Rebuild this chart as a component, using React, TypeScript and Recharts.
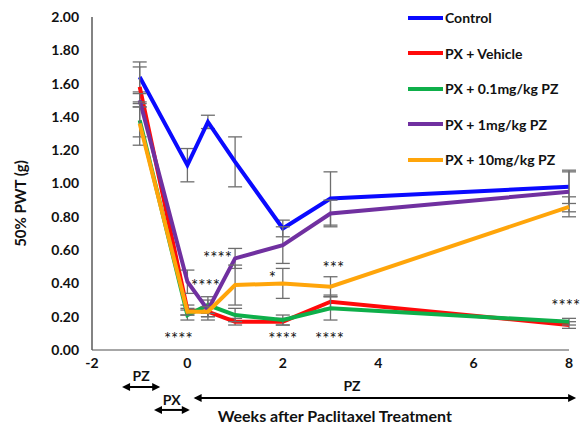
import {
  LineChart,
  Line,
  XAxis,
  YAxis,
  ErrorBar,
  Legend,
  ReferenceLine,
  ReferenceDot,
} from 'recharts';

// Weeks relative to paclitaxel dosing
const weeks = [-1, 0, 0.43, 1, 2, 3, 8];

const control = [1.64, 1.11, 1.37, 1.13, 0.73, 0.91, 0.98];
const controlErr = [0.09, 0.1, 0.04, 0.15, 0.05, 0.16, 0.1];
const vehicle = [1.58, 0.24, 0.23, 0.17, 0.17, 0.29, 0.15];
const vehicleErr = [0.12, 0.03, 0.03, 0.02, 0.02, 0.04, 0.02];
const pz01 = [1.38, 0.21, 0.27, 0.21, 0.18, 0.25, 0.17];
const pz01Err = [0.1, 0.03, 0.05, 0.04, 0.03, 0.07, 0.02];
const pz1 = [1.5, 0.41, 0.24, 0.55, 0.63, 0.82, 0.95];
const pz1Err = [0.04, 0.07, 0.06, 0.06, 0.11, 0.08, 0.12];
const pz10 = [1.36, 0.23, 0.23, 0.39, 0.4, 0.38, 0.86];
const pz10Err = [0.13, 0.02, 0.03, 0.12, 0.09, 0.06, 0.06];

const yTicks = [0, 0.2, 0.4, 0.6, 0.8, 1.0, 1.2, 1.4, 1.6, 1.8, 2.0];
const xTicks = [-2, 0, 2, 4, 6, 8];

// significance marks
const stars = [
  { x: -0.19, y: 0.065, text: '****' },
  { x: 0.38, y: 0.385, text: '****' },
  { x: 0.63, y: 0.555, text: '****' },
  { x: 1.78, y: 0.435, text: '*' },
  { x: 2.0, y: 0.065, text: '****' },
  { x: 2.98, y: 0.065, text: '****' },
  { x: 3.06, y: 0.495, text: '***' },
  { x: 7.93, y: 0.265, text: '****' },
];

// treatment periods under the axis
const periods = [
  { from: -1.37, to: -0.57, y: -0.222 },
  { from: -0.7, to: 0.05, y: -0.36 },
  { from: 0.13, to: 8.15, y: -0.288 },
];

const periodLabels = [
  { x: -0.97, y: -0.156, text: 'PZ', size: 14 },
  { x: -0.33, y: -0.3, text: 'PX', size: 14 },
  { x: 3.45, y: -0.216, text: 'PZ', size: 14 },
  { x: 3.09, y: -0.4, text: 'Weeks after Paclitaxel Treatment', size: 16 },
];

const data = weeks.map((w, i) => ({
  week: w,
  control: control[i],
  controlErr: controlErr[i],
  vehicle: vehicle[i],
  vehicleErr: vehicleErr[i],
  pz01: pz01[i],
  pz01Err: pz01Err[i],
  pz1: pz1[i],
  pz1Err: pz1Err[i],
  pz10: pz10[i],
  pz10Err: pz10Err[i],
}));

const series = [
  { key: 'control', name: 'Control', color: '#0A0AFF' },
  { key: 'vehicle', name: 'PX + Vehicle', color: '#FF0A0A' },
  { key: 'pz01', name: 'PX + 0.1mg/kg PZ', color: '#0EAF4A' },
  { key: 'pz1', name: 'PX + 1mg/kg PZ', color: '#7030A0' },
  { key: 'pz10', name: 'PX + 10mg/kg PZ', color: '#FFA50A' },
];

const FONT = 'Lato, "Open Sans", sans-serif';

const DoubleArrow = (props: any) => {
  const { x1, x2, y1 } = props;
  const h = 4;
  const l = 8;
  return (
    <g>
      <line x1={x1 + 2} y1={y1} x2={x2 - 2} y2={y1} stroke="#000" strokeWidth={2} />
      <polygon points={`${x1},${y1} ${x1 + l},${y1 - h} ${x1 + l},${y1 + h}`} fill="#000" />
      <polygon points={`${x2},${y1} ${x2 - l},${y1 - h} ${x2 - l},${y1 + h}`} fill="#000" />
    </g>
  );
};

// legend keeps the series order
const LegendBox = () => (
  <div style={{ fontFamily: FONT, fontWeight: 700, fontSize: 14, color: '#111' }}>
    {series.map((s) => (
      <div key={s.key} style={{ display: 'flex', alignItems: 'center', height: 35.5 }}>
        <svg width={37} height={6}>
          <line x1={1} y1={3} x2={36} y2={3} stroke={s.color} strokeWidth={4} />
        </svg>
        <span style={{ marginLeft: 1 }}>{s.name}</span>
      </div>
    ))}
  </div>
);

export default function App() {
  return (
    <div style={{ position: 'absolute', left: 0, top: 0, background: '#fff' }}>
      <LineChart
        width={585}
        height={426}
        data={data}
        margin={{ top: 17, right: 16, left: 0, bottom: 46 }}
      >
        <XAxis
          dataKey="week"
          type="number"
          domain={[-2, 8]}
          ticks={xTicks}
          tickLine={false}
          axisLine={{ stroke: '#8a8a8a', strokeWidth: 1.5 }}
          tick={{ fill: '#111', fontSize: 14, fontWeight: 700, fontFamily: FONT }}
          height={30}
          interval={0}
        />
        <YAxis
          type="number"
          domain={[0, 2]}
          ticks={yTicks}
          width={92}
          tickLine={false}
          tickMargin={7}
          axisLine={{ stroke: '#5a5a5a', strokeWidth: 1.5 }}
          tickFormatter={(v: number) => v.toFixed(2)}
          tick={{ fill: '#111', fontSize: 14, fontWeight: 700, fontFamily: FONT }}
          label={{
            content: ({ viewBox }: any) => {
              const cx = viewBox.x + 20;
              const cy = viewBox.y + viewBox.height / 2 + 20;
              return (
                <text
                  x={cx}
                  y={cy}
                  transform={`rotate(-90, ${cx}, ${cy})`}
                  textAnchor="middle"
                  dominantBaseline="central"
                  fontFamily={FONT}
                  fontWeight={700}
                  fontSize={15}
                  fill="#111"
                >
                  50% PWT (g)
                </text>
              );
            },
          }}
        />
        <Legend
          layout="horizontal"
          verticalAlign="middle"
          align="center"
          content={<LegendBox />}
          wrapperStyle={{ top: 0, left: 407, width: 178 }}
        />
        {series.map((s) => (
          <Line
            key={s.key}
            dataKey={s.key}
            name={s.name}
            type="linear"
            stroke={s.color}
            strokeWidth={4}
            dot={false}
            activeDot={false}
            isAnimationActive={false}
          >
            <ErrorBar
              dataKey={`${s.key}Err`}
              width={7}
              stroke="#6e6e6e"
              strokeWidth={1.3}
              direction="y"
              isAnimationActive={false}
            />
          </Line>
        ))}
        {stars.map((s, i) => (
          <ReferenceDot
            key={`star-${i}`}
            x={s.x}
            y={s.y}
            r={0}
            ifOverflow="visible"
            label={{
              value: s.text,
              position: 'center',
              fill: '#111',
              fontSize: 17,
              fontFamily: FONT,
            }}
          />
        ))}
        {periods.map((p, i) => (
          <ReferenceLine
            key={`period-${i}`}
            segment={[
              { x: p.from, y: p.y },
              { x: p.to, y: p.y },
            ]}
            ifOverflow="visible"
            shape={<DoubleArrow />}
          />
        ))}
        {periodLabels.map((l, i) => (
          <ReferenceDot
            key={`plabel-${i}`}
            x={l.x}
            y={l.y}
            r={0}
            ifOverflow="visible"
            label={{
              value: l.text,
              position: 'center',
              fill: '#111',
              fontSize: l.size,
              fontWeight: 700,
              fontFamily: FONT,
            }}
          />
        ))}
      </LineChart>
    </div>
  );
}
